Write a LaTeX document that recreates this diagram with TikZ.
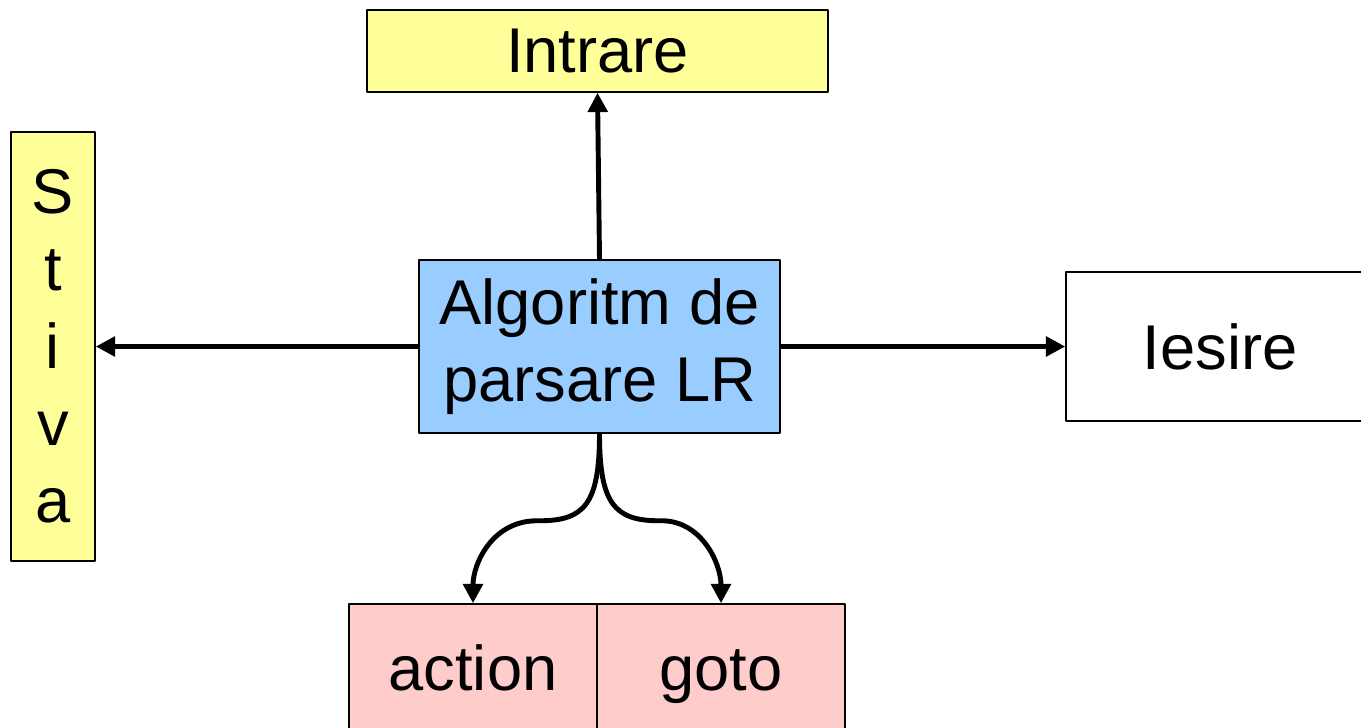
\documentclass[tikz,border=0pt]{standalone}
\usepackage{fontspec}
\setmainfont{Liberation Sans}
\usepackage{xcolor}
\usetikzlibrary{arrows.meta,calc}
\definecolor{boxyel}{HTML}{FFFF99}
\definecolor{boxblu}{HTML}{99CCFF}
\definecolor{boxpnk}{HTML}{FFCCCC}

\tikzset{
  blk/.style={draw=black, line width=0.9pt, inner sep=0pt, align=center,
              font=\fontsize{36}{44}\selectfont},
  cell/.style={blk, fill=boxpnk, minimum width=4.96cm, minimum height=3.3cm,
               text height=0.72em, text depth=0.22em},
  flow/.style={line width=2.8pt, -{Triangle[length=11pt,width=11pt]}}
}

\begin{document}
\begin{tikzpicture}[x=0.02cm, y=-0.02cm, line join=round]
  \useasboundingbox (0,0) rectangle (1361,727);
  % boxes
  \node[blk, fill=boxyel, minimum width=9.22cm, minimum height=1.64cm] (intr) at (597.5,51) {Intrare};
  \node[blk, fill=boxyel, minimum width=1.68cm, minimum height=8.58cm] (stiva) at (53,346.5) {S\\t\\i\\v\\a};
  \node[blk, fill=boxblu, minimum width=7.22cm, minimum height=3.46cm] (alg) at (599.5,346.5) {Algoritm de\\parsare LR};
  \node[blk, fill=white, minimum width=6.16cm, minimum height=2.98cm] (ies) at (1220,346.5) {Iesire};
  \node[cell] (act) at (473,686.5) {action};
  \node[cell] (gto) at (721,686.5) {goto};
  % straight connectors
  \draw[flow] (alg.north) -- (intr.south);
  \draw[flow] (alg.west) -- (stiva.east);
  \draw[flow] (alg.east) -- (ies.west);
  % curved connectors to the table
  \draw[flow] (alg.south) .. controls ($(alg.south)+(0,70)$) and ($(alg.south)+(-15,87)$) .. ($(alg.south)+(-60,87)$)
    .. controls ($(act.north)+(20,-84)$) and ($(act.north)+(0,-40)$) .. (act.north);
  \draw[flow] (alg.south) .. controls ($(alg.south)+(0,70)$) and ($(alg.south)+(15,87)$) .. ($(alg.south)+(60,87)$)
    .. controls ($(gto.north)+(-20,-84)$) and ($(gto.north)+(0,-40)$) .. (gto.north);
\end{tikzpicture}
\end{document}
